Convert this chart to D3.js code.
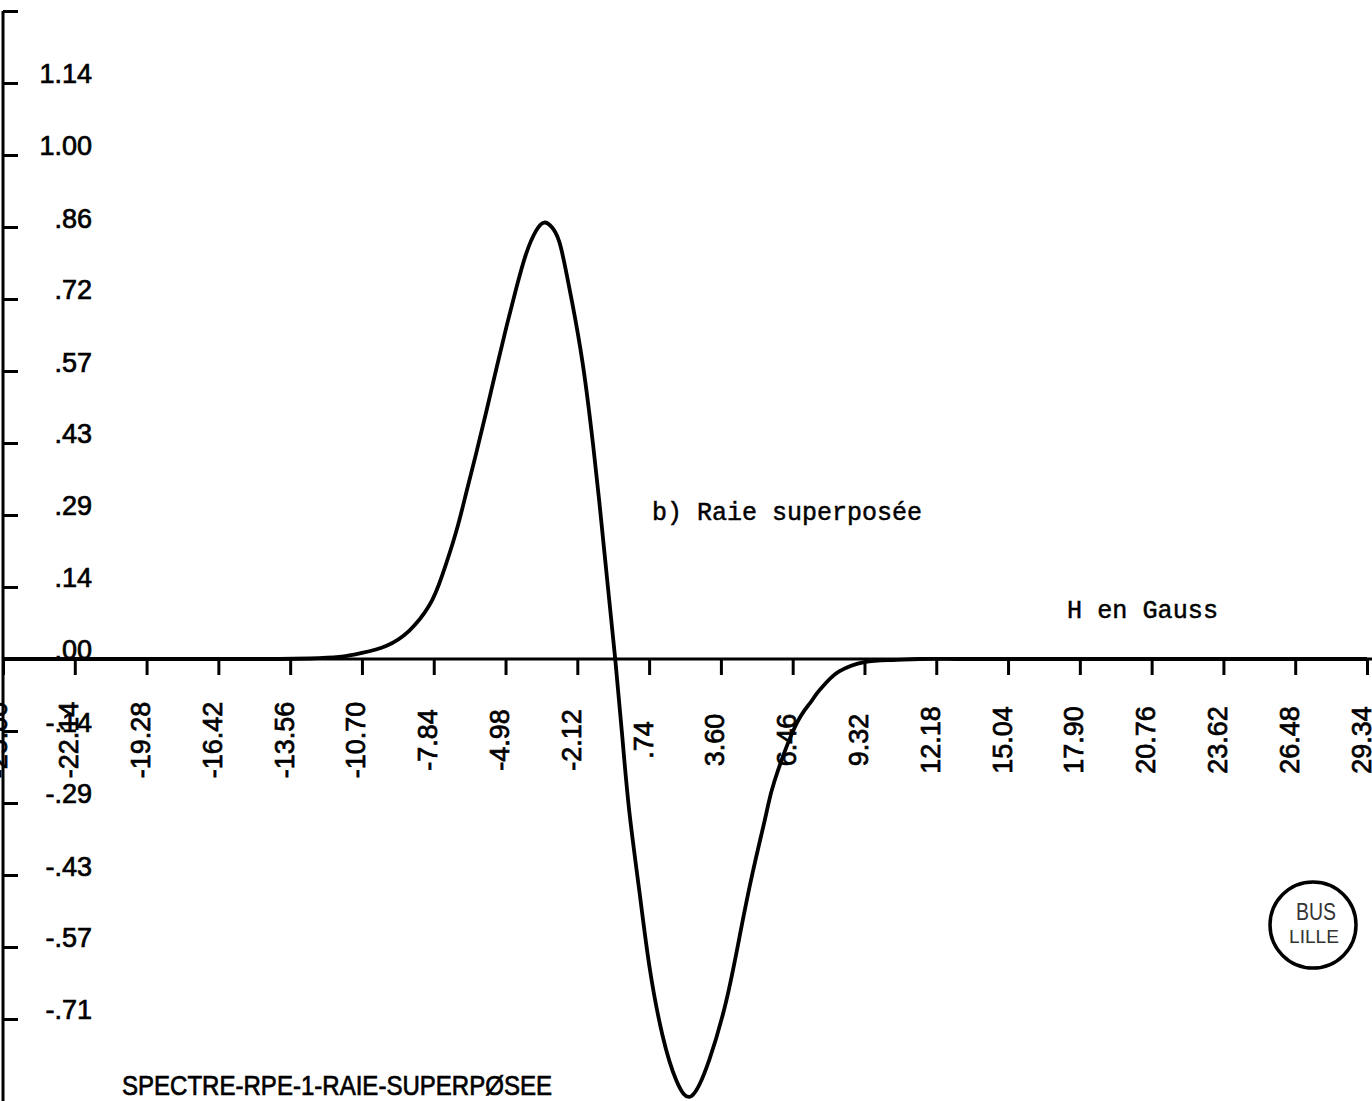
<!DOCTYPE html>
<html>
<head>
<meta charset="utf-8">
<script src="https://cdn.jsdelivr.net/npm/d3@7"></script>
<style>
  html, body { margin: 0; padding: 0; background: #fff; }
  svg { display: block; }
</style>
</head>
<body>
<div id="chart"></div>
<script>
// Field sweep (Gauss) and first-derivative EPR signal of the superposed line
const fieldGauss = [-25.00, -22.00, -19.00, -16.00, -14.00, -12.80, -11.61, -10.70, -9.74, -8.82,
  -8.02, -7.51, -6.95, -6.55, -6.15, -5.75, -5.35, -4.95, -4.55, -4.16,
  -3.76, -3.44, -3.14, -2.84, -2.58, -2.32, -1.92, -1.56, -1.25, -0.93,
  -0.61, -0.33, -0.05, 0.35, 0.75, 1.27, 1.83, 2.43, 3.14, 3.82,
  4.34, 4.86, 5.41, 5.73, 6.53, 7.13, 7.41, 7.81, 8.33, 9.32,
  10.44, 11.50, 13.00, 15.00, 18.00, 21.00, 24.00, 27.00, 29.34];
const signal = [0, 0, 0, 0, 0, 0.001, 0.004, 0.012, 0.026, 0.056,
  0.106, 0.165, 0.252, 0.329, 0.408, 0.490, 0.575, 0.658, 0.736, 0.804,
  0.850, 0.866, 0.857, 0.828, 0.772, 0.706, 0.591, 0.454, 0.315, 0.157,
  0, -0.153, -0.302, -0.460, -0.609, -0.746, -0.837, -0.867, -0.795, -0.677,
  -0.552, -0.425, -0.306, -0.243, -0.137, -0.089, -0.069, -0.046, -0.024, -0.006,
  -0.002, 0, 0, 0, 0, 0, 0, 0, 0];

// Horizontal axis graduations (Gauss)
const xTickLabels = ["-25.00", "-22.14", "-19.28", "-16.42", "-13.56", "-10.70", "-7.84", "-4.98",
  "-2.12", ".74", "3.60", "6.46", "9.32", "12.18", "15.04", "17.90", "20.76", "23.62", "26.48", "29.34"];
const xTickValues = xTickLabels.map(Number);

// Vertical axis graduations (steps of 1/7); the top end mark carries no label
const yTickValues = [1.2857, 1.1429, 1.0, 0.8571, 0.7143, 0.5714, 0.4286, 0.2857, 0.1429, 0,
  -0.1429, -0.2857, -0.4286, -0.5714, -0.7143];
const yTickLabels = ["", "1.14", "1.00", ".86", ".72", ".57", ".43", ".29", ".14", ".00",
  "-.14", "-.29", "-.43", "-.57", "-.71"];

const W = 1372, H = 1101;
const ink = "#000";

const svg = d3.select("#chart").append("svg")
  .attr("width", W).attr("height", H)
  .attr("viewBox", `0 0 ${W} ${H}`);

svg.append("rect").attr("width", W).attr("height", H).attr("fill", "#fff");

const x = d3.scaleLinear().domain([-25.00, 29.34]).range([3, 1367]);
const y = d3.scaleLinear().domain([-0.877, 1.2857]).range([1101, 11]);

const plotFont = "'Liberation Sans', Arial, Helvetica, sans-serif";

// Vertical axis: ticks point inward, labels sit on the tick line
const yAxis = d3.axisRight(y)
  .tickValues(yTickValues)
  .tickFormat((d, i) => yTickLabels[i])
  .tickSize(15)
  .tickSizeOuter(0);

const gy = svg.append("g")
  .attr("transform", "translate(3,0)")
  .call(yAxis);
gy.select(".domain").attr("stroke", ink).attr("stroke-width", 3)
  .attr("d", `M0,${y.range()[1]}V${H}`);
gy.selectAll(".tick line").attr("stroke", ink).attr("stroke-width", 3);
gy.selectAll(".tick text")
  .attr("x", 89).attr("dy", 0).attr("y", 0)
  .attr("text-anchor", "end")
  .attr("fill", ink)
  .attr("stroke", ink).attr("stroke-width", 0.7)
  .style("font-family", plotFont)
  .style("font-size", "27px");

// Horizontal axis along zero signal, rotated labels
const xAxis = d3.axisBottom(x)
  .tickValues(xTickValues)
  .tickFormat((d, i) => xTickLabels[i])
  .tickSize(16)
  .tickSizeOuter(0);

const gx = svg.append("g")
  .attr("transform", `translate(0,${y(0)})`)
  .call(xAxis);
gx.select(".domain").attr("stroke", ink).attr("stroke-width", 3)
  .attr("d", `M${x.range()[0]},0H${W}`);
gx.selectAll(".tick line").attr("stroke", ink).attr("stroke-width", 3);
gx.selectAll(".tick text")
  .attr("transform", "rotate(-90)")
  .attr("x", -81).attr("y", 3).attr("dy", 0)
  .attr("text-anchor", "middle")
  .attr("fill", ink)
  .attr("stroke", ink).attr("stroke-width", 0.7)
  .style("font-family", plotFont)
  .style("font-size", "27px");

// Spectrum trace
const pts = fieldGauss.map((f, i) => ({ field: f, signal: signal[i] }));
const line = d3.line()
  .x(d => x(d.field))
  .y(d => y(d.signal))
  .curve(d3.curveNatural);

svg.append("path")
  .datum(pts)
  .attr("d", line)
  .attr("fill", "none")
  .attr("stroke", ink)
  .attr("stroke-width", 3.8)
  .attr("stroke-linejoin", "round");

// Typed annotations
const typeFont = "'Liberation Mono', 'Courier New', monospace";
svg.append("text")
  .attr("x", 652).attr("y", 520)
  .attr("textLength", 270).attr("lengthAdjust", "spacingAndGlyphs")
  .style("font-family", typeFont).style("font-size", "26px")
  .attr("fill", ink).attr("stroke", ink).attr("stroke-width", 0.5)
  .text("b) Raie superposée");

svg.append("text")
  .attr("x", 1067).attr("y", 618)
  .attr("textLength", 151).attr("lengthAdjust", "spacingAndGlyphs")
  .style("font-family", typeFont).style("font-size", "26px")
  .attr("fill", ink).attr("stroke", ink).attr("stroke-width", 0.5)
  .text("H en Gauss");

// Plot title
svg.append("text")
  .attr("x", 122).attr("y", 1095)
  .attr("textLength", 430).attr("lengthAdjust", "spacingAndGlyphs")
  .style("font-family", plotFont).style("font-size", "27px")
  .attr("fill", ink).attr("stroke", ink).attr("stroke-width", 0.7)
  .text("SPECTRE-RPE-1-RAIE-SUPERPØSEE");

// Library stamp
const stamp = svg.append("g").attr("transform", "translate(1313,925)");
stamp.append("circle")
  .attr("r", 43)
  .attr("fill", "none")
  .attr("stroke", ink)
  .attr("stroke-width", 3.5);
stamp.append("text")
  .attr("x", 3).attr("y", -5)
  .attr("text-anchor", "middle")
  .attr("textLength", 40).attr("lengthAdjust", "spacingAndGlyphs")
  .style("font-family", plotFont).style("font-size", "24px")
  .attr("fill", "#333")
  .text("BUS");
stamp.append("text")
  .attr("x", 1).attr("y", 18)
  .attr("text-anchor", "middle")
  .attr("textLength", 50).attr("lengthAdjust", "spacingAndGlyphs")
  .style("font-family", plotFont).style("font-size", "19px")
  .attr("fill", "#333")
  .text("LILLE");
</script>
</body>
</html>
